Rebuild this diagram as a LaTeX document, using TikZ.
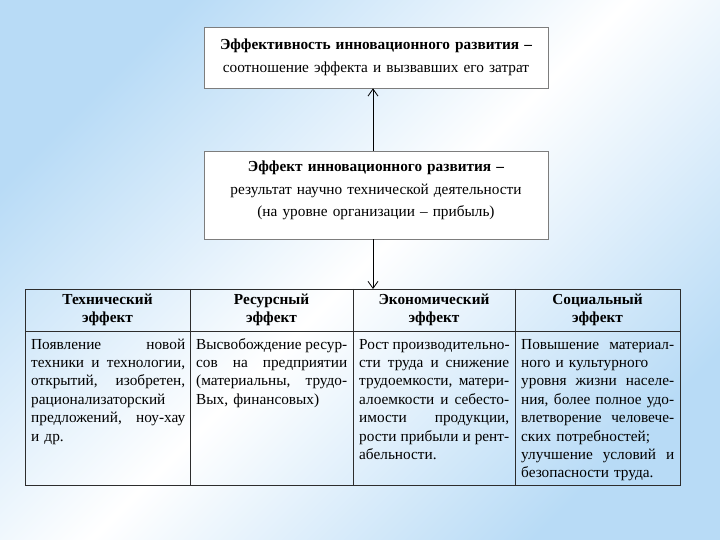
\documentclass[tikz,border=0pt]{standalone}
\usepackage{fontspec}
\setmainfont{Liberation Serif}
\usepackage{tikz}
\usetikzlibrary{positioning,calc,arrows.meta}
\definecolor{skyblue}{RGB}{184,219,246}
\definecolor{boxgray}{RGB}{125,125,125}
\definecolor{gridgray}{RGB}{45,45,45}
\newcommand\boxfont{\fontsize{15.3}{22.5}\selectfont}
\newcommand\cellfont{\fontsize{15.3}{18.4}\selectfont}
\newlength\cellw
% one justified line / one ragged line of a table cell
\newcommand\jline[1]{\leavevmode\hbox to\cellw{\spaceskip=0.25em plus 1fill\xspaceskip=\spaceskip\strut#1}}
\newcommand\rline[1]{\leavevmode\hbox to\cellw{\strut#1\hfil}}

\begin{document}
\begin{tikzpicture}[x=1pt,y=1pt,
    infobox/.style={draw=boxgray,fill=white,line width=0.8pt,text width=344pt,inner sep=0pt,align=center,font=\boxfont},
    headcell/.style={anchor=north,inner sep=0pt,align=center,font=\cellfont\bfseries},
    bodycell/.style={anchor=north west,inner sep=0pt,align=left,font=\cellfont,
        text width=#1,execute at begin node={\setlength\cellw{#1}}},
    grid/.style={draw=gridgray,line width=0.8pt},
    link/.style={line width=0.8pt,-{Straight Barb[length=7pt,width=10pt]}}]
    \useasboundingbox (0,0) rectangle (720,540);

    % background
    \shade[top color=skyblue,bottom color=skyblue,middle color=white,shading angle=45] (0,0) rectangle (720,540);

    % definition boxes
    \node[infobox,minimum height=61pt] (efficiency) at (376,482.5)
        {\textbf{Эффективность инновационного развития –}\\соотношение эффекта и вызвавших его затрат};
    \node[infobox,minimum height=88pt] (effect) at (376,345)
        {\textbf{Эффект инновационного развития –}\\результат научно технической деятельности\\(на уровне организации – прибыль)\par\kern9pt};

    % table frame
    \coordinate (tabNW) at (25,251);
    \coordinate (tabSE) at (680,55);
    \draw[grid] (tabNW) rectangle (tabSE);
    \draw[grid] (25,209) -- (680,209);
    \foreach \x in {190,353,515}
        \draw[grid] (\x,251) -- (\x,55);

    % arrows
    \draw[link,{Straight Barb[length=7pt,width=10pt]}-] ([xshift=-3pt]efficiency.south) -- ([xshift=-3pt]effect.north);
    \coordinate (tabtop) at ([xshift=-3pt]effect.south |- tabNW);
    \draw[link] ([xshift=-3pt]effect.south) -- (tabtop);

    % table head
    \node[headcell] (techhead) at (107.5,249) {\strut Технический\\эффект};
    \node[headcell] (reshead) at (271.5,249) {\strut Ресурсный\\эффект};
    \node[headcell] (econhead) at (434,249) {\strut Экономический\\эффект};
    \node[headcell] (socihead) at (597.5,249) {\strut Социальный\\эффект};

    % table body
    \node[bodycell=154pt] (techbody) at (31,204) {%
        \jline{Появление новой}\\
        \jline{техники и технологии,}\\
        \jline{открытий, изобретен,}\\
        \rline{рационализаторский}\\
        \jline{предложений, ноу-хау}\\
        \rline{и др.}};
    \node[bodycell=151pt] (resbody) at (196,204) {%
        \jline{Высвобождение ресур-}\\
        \jline{сов на предприятии}\\
        \jline{(материальны, трудо-}\\
        \rline{Вых, финансовых)}};
    \node[bodycell=150pt] (econbody) at (359,204) {%
        \jline{Рост производительно-}\\
        \jline{сти труда и снижение}\\
        \jline{трудоемкости, матери-}\\
        \jline{алоемкости и себесто-}\\
        \jline{имости продукции,}\\
        \jline{рости прибыли и рент-}\\
        \rline{абельности.}};
    \node[bodycell=153pt] (socibody) at (521,204) {%
        \jline{Повышение материал-}\\
        \rline{ного и культурного}\\
        \jline{уровня жизни населе-}\\
        \jline{ния, более полное удо-}\\
        \jline{влетворение человече-}\\
        \rline{ских потребностей;}\\
        \jline{улучшение условий и}\\
        \rline{безопасности труда.}};
\end{tikzpicture}
\end{document}
